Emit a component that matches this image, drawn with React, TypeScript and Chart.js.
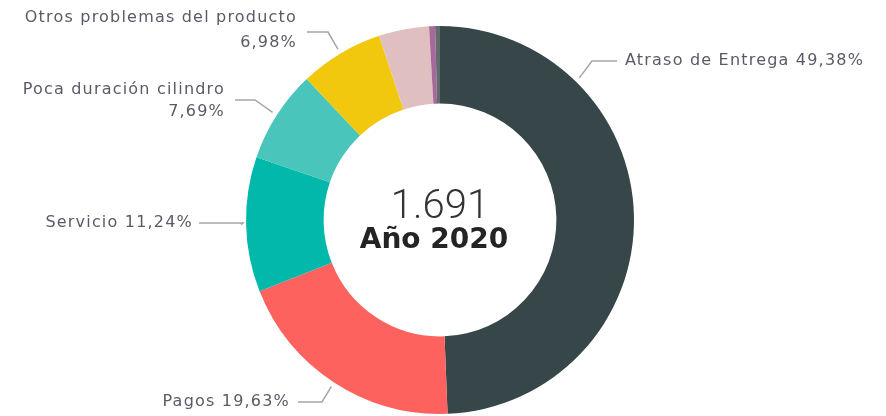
import React, { useEffect, useRef } from "react";
import { Chart, registerables } from "chart.js";

Chart.register(...registerables);

const CATEGORIES = [
  "Atraso de Entrega",
  "Pagos",
  "Servicio",
  "Poca duración cilindro",
  "Otros problemas del producto",
  "Categoría 6",
  "Categoría 7",
  "Categoría 8",
];
const SHARES = [49.38, 19.63, 11.24, 7.69, 6.98, 4.18, 0.5, 0.4];
const COLORS = ["#374649", "#FD625E", "#01B8AA", "#4AC5BB", "#F2C80F", "#DFBFBF", "#A66999", "#5F6B6D"];
const TOTAL_TEXT = "1.691";
const YEAR_TEXT = "Año 2020";

const fmtPct = (v: number) => v.toFixed(2).replace(".", ",") + "%";

// Label layout (positions/styles only)
const LABEL_LAYOUT = [
  { idx: 0, frac: 0.25, elbow: [592, 61], end: [617, 61], textX: 625, align: "left", twoLine: false, ys: [61] },
  { idx: 1, frac: 0.5, elbow: [322, 402], end: [298, 402], textX: 290, align: "right", twoLine: false, ys: [402] },
  { idx: 2, frac: 0.5, elbow: [243, 223], end: [199, 223], textX: 193, align: "right", twoLine: false, ys: [223] },
  { idx: 3, frac: 0.5, elbow: [255, 100], end: [235, 100], textX: 225, align: "right", twoLine: true, ys: [90, 112] },
  { idx: 4, frac: 0.5, elbow: [328, 32], end: [307, 32], textX: 297, align: "right", twoLine: true, ys: [18, 43] },
];

const labelPlugin = {
  id: "labelPlugin",
  afterDraw(chart: any) {
    const ctx = chart.ctx;
    const meta = chart.getDatasetMeta(0);
    ctx.save();
    LABEL_LAYOUT.forEach((L) => {
      const arc = meta.data[L.idx];
      if (!arc) return;
      const p = arc.getProps(["x", "y", "startAngle", "endAngle", "outerRadius"], true);
      const a = p.startAngle + L.frac * (p.endAngle - p.startAngle);
      const r = p.outerRadius + 5;
      const sx = p.x + Math.cos(a) * r;
      const sy = p.y + Math.sin(a) * r;
      ctx.strokeStyle = "#a6a6a6";
      ctx.lineWidth = 1.5;
      ctx.beginPath();
      ctx.moveTo(sx, sy);
      ctx.lineTo(L.elbow[0], L.elbow[1]);
      ctx.lineTo(L.end[0], L.end[1]);
      ctx.stroke();

      ctx.fillStyle = "#5b5a66";
      ctx.font = "16px 'DejaVu Sans'";
      (ctx as any).letterSpacing = "1.2px";
      ctx.textAlign = L.align as CanvasTextAlign;
      ctx.textBaseline = "middle";
      const name = CATEGORIES[L.idx];
      const pct = fmtPct(SHARES[L.idx]);
      if (L.twoLine) {
        ctx.fillText(name, L.textX, L.ys[0]);
        ctx.fillText(pct, L.textX, L.ys[1]);
      } else {
        ctx.fillText(name + " " + pct, L.textX, L.ys[0]);
      }
      (ctx as any).letterSpacing = "0px";
    });

    // center text
    const arc0 = meta.data[0];
    if (arc0) {
      const p = arc0.getProps(["x", "y"], true);
      ctx.textAlign = "center";
      ctx.textBaseline = "alphabetic";
      ctx.fillStyle = "#333333";
      ctx.font = "300 40px Roboto";
      ctx.fillText(TOTAL_TEXT, p.x, p.y - 2);
      ctx.fillStyle = "#252423";
      ctx.font = "bold 28px 'DejaVu Sans'";
      ctx.fillText(YEAR_TEXT, p.x - 6, p.y + 28);
    }
    ctx.restore();
  },
};

export default function App() {
  const ref = useRef<HTMLCanvasElement | null>(null);
  useEffect(() => {
    if (!ref.current) return;
    const chart = new Chart(ref.current, {
      type: "doughnut",
      data: {
        labels: CATEGORIES,
        datasets: [
          {
            data: SHARES,
            backgroundColor: COLORS,
            borderWidth: 0,
          },
        ],
      },
      options: {
        animation: false,
        responsive: true,
        maintainAspectRatio: false,
        cutout: "60%",
        layout: { padding: { top: 26, bottom: 2, left: 0, right: 6 } },
        plugins: {
          legend: { display: false },
          tooltip: { enabled: false },
        },
      },
      plugins: [labelPlugin],
    });
    return () => chart.destroy();
  }, []);
  return (
    <div style={{ position: "absolute", left: 0, top: 0, width: 886, height: 416, background: "#fff" }}>
      <canvas ref={ref} />
    </div>
  );
}
